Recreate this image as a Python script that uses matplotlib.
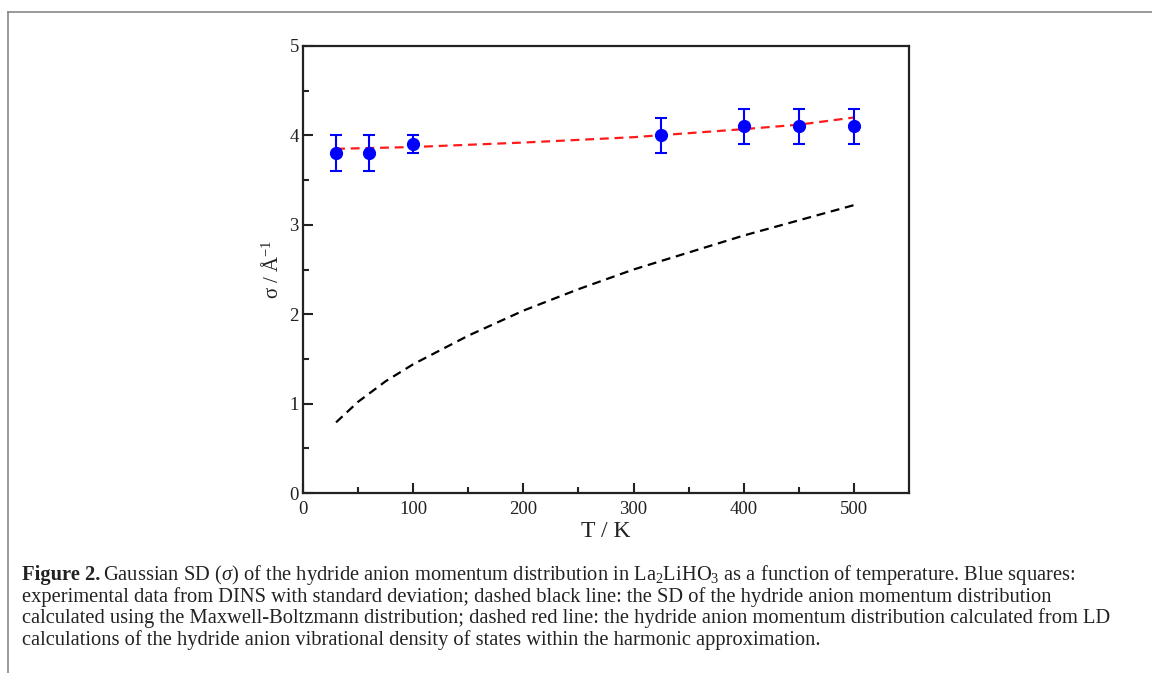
import numpy as np
import matplotlib
matplotlib.use("Agg")
import matplotlib.pyplot as plt
from matplotlib.lines import Line2D

plt.rcParams['font.family'] = ['Liberation Serif', 'DejaVu Serif']
plt.rcParams['mathtext.fontset'] = 'custom'
plt.rcParams['mathtext.rm'] = 'Liberation Serif'
plt.rcParams['mathtext.it'] = 'Liberation Serif:italic'
plt.rcParams['mathtext.bf'] = 'Liberation Serif:bold'

# experimental DINS data
T_exp = [30, 60, 100, 325, 400, 450, 500]
sigma_exp = [3.8, 3.8, 3.9, 4.0, 4.1, 4.1, 4.1]
sigma_err = [0.2, 0.2, 0.1, 0.2, 0.2, 0.2, 0.2]

# LD harmonic calculation (red dashed)
T_ld = [30, 100, 200, 300, 400, 450, 500]
sigma_ld = [3.85, 3.87, 3.92, 3.98, 4.07, 4.12, 4.20]

# Maxwell-Boltzmann (black dashed)
T_mb = [30, 50, 75, 100, 150, 200, 250, 300, 350, 400, 450, 500]
sigma_mb = [0.79, 1.02, 1.25, 1.44, 1.76, 2.04, 2.28, 2.50, 2.69, 2.88, 3.05, 3.22]

caption_lines = [
    "Gaussian SD ($\\mathit{\\sigma}$) of the hydride anion momentum distribution in La$_2$LiHO$_3$ as a function of temperature. Blue squares:",
    "experimental data from DINS with standard deviation; dashed black line: the SD of the hydride anion momentum distribution",
    "calculated using the Maxwell-Boltzmann distribution; dashed red line: the hydride anion momentum distribution calculated from LD",
    "calculations of the hydride anion vibrational density of states within the harmonic approximation.",
]

W, H = 1152, 673
fig = plt.figure(figsize=(W / 100, H / 100), dpi=100)
ax = fig.add_axes([303 / W, 1 - 493 / H, (909 - 303) / W, (493 - 46) / H])

ax.plot(T_mb, sigma_mb, color='black', ls=(0, (4, 2.6)), lw=1.6)
ax.plot(T_ld, sigma_ld, color='#ff1a1a', ls=(0, (4, 2.6)), lw=1.6)
ax.errorbar(T_exp, sigma_exp, yerr=sigma_err, fmt='o', color='#0000ff', ms=8.5,
            ecolor='#0000ff', elinewidth=1.5, capsize=4.5, capthick=1.5, zorder=5)

ax.set_xlim(0, 550)
ax.set_ylim(0, 5)
ax.set_xticks([0, 100, 200, 300, 400, 500])
ax.set_xticks([50, 150, 250, 350, 450], minor=True)
ax.set_yticks([0, 1, 2, 3, 4, 5])
ax.set_yticks([0.5, 1.5, 2.5, 3.5, 4.5], minor=True)
ax.tick_params(which='both', direction='in', top=False, right=False, width=1.5, labelsize=13.5, colors='#222222')
ax.tick_params(which='major', length=7)
ax.tick_params(axis='y', which='major', pad=3)
ax.tick_params(axis='x', which='major', pad=6)
ax.tick_params(which='minor', length=4)
for s in ax.spines.values():
    s.set_linewidth(1.6)
    s.set_color('#222222')

ax.set_xlabel("T / K", fontsize=17, labelpad=2, color='#222222')
ax.set_ylabel("σ / Å$^{-1}$", fontsize=15, labelpad=5, color='#222222')

# caption
y0 = 1 - 575 / H
dy = 21.7 / H
x0 = 22 / W
fsz = 14.8
t = fig.text(x0, y0, "Figure 2.", fontsize=fsz, fontweight='bold', va='center', color='#222222')
fig.canvas.draw()
bb = t.get_window_extent()
fig.text(bb.x1 / W + 3 / W, y0, caption_lines[0], fontsize=fsz, va='center', color='#222222')
for i, line in enumerate(caption_lines[1:], start=1):
    fig.text(x0, y0 - i * dy, line, fontsize=fsz, va='center', color='#222222')

# page frame
fig.add_artist(Line2D([8 / W, 8 / W], [0, 1 - 12 / H], color='#888888', lw=1.2))
fig.add_artist(Line2D([8 / W, 1], [1 - 12 / H, 1 - 12 / H], color='#888888', lw=1.2))

fig.savefig("out.png", dpi=100)
